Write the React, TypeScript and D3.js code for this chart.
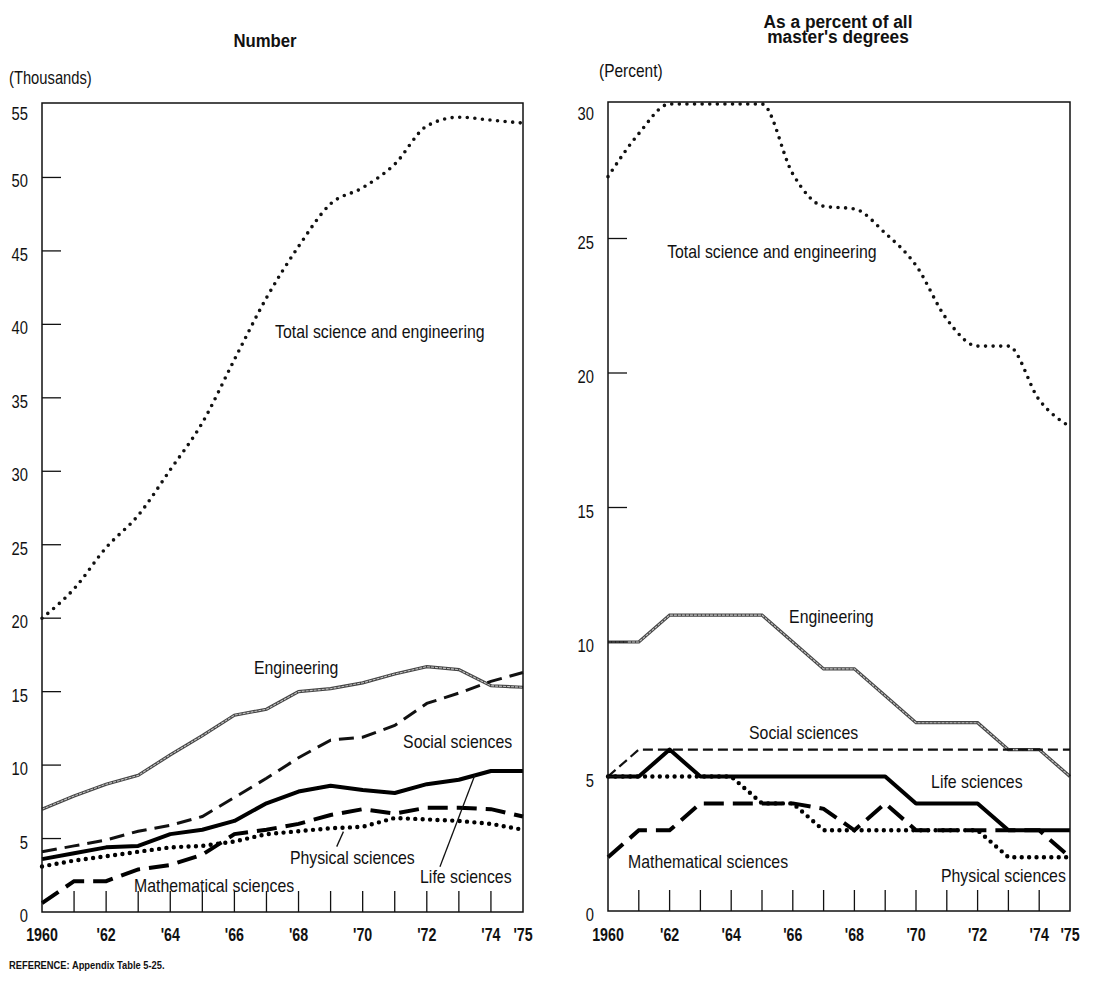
import { useRef, useEffect } from 'react';
import * as d3 from 'd3';

// ---- data ----
const years = [1960, 1961, 1962, 1963, 1964, 1965, 1966, 1967, 1968, 1969, 1970, 1971, 1972, 1973, 1974, 1975];

// Number of master's degrees (thousands)
const numTotal = [20.0, 22.0, 24.8, 27.0, 30.1, 33.3, 37.6, 41.8, 45.3, 48.2, 49.3, 50.9, 53.5, 54.1, 53.9, 53.7];
const numEngineering = [7.0, 7.9, 8.7, 9.3, 10.7, 12.0, 13.4, 13.8, 15.0, 15.2, 15.6, 16.2, 16.7, 16.5, 15.4, 15.3];
const numSocial = [4.1, 4.5, 4.9, 5.5, 5.9, 6.5, 7.8, 9.1, 10.5, 11.7, 11.9, 12.7, 14.2, 14.9, 15.7, 16.3];
const numLife = [3.6, 4.0, 4.4, 4.5, 5.3, 5.6, 6.2, 7.4, 8.2, 8.6, 8.3, 8.1, 8.7, 9.0, 9.6, 9.6];
const numPhysical = [3.1, 3.5, 3.8, 4.1, 4.4, 4.5, 4.8, 5.3, 5.5, 5.7, 5.8, 6.4, 6.3, 6.2, 6.0, 5.6];
const numMath = [0.6, 2.1, 2.1, 2.9, 3.2, 3.9, 5.3, 5.6, 6.0, 6.6, 7.0, 6.7, 7.1, 7.1, 7.0, 6.5];

// As a percent of all master's degrees
const pctTotal = [27.3, 28.9, 30, 30, 30, 30, 27.4, 26.2, 26.1, 25.2, 24, 22, 21, 21, 19, 18];
const pctEngineering = [10, 10, 11, 11, 11, 11, 10, 9, 9, 8, 7, 7, 7, 6, 6, 5];
const pctSocial = [5, 6, 6, 6, 6, 6, 6, 6, 6, 6, 6, 6, 6, 6, 6, 6];
const pctLife = [5, 5, 6, 5, 5, 5, 5, 5, 5, 5, 4, 4, 4, 3, 3, 3];
const pctPhysical = [5, 5, 5, 5, 5, 4, 4, 3, 3, 3, 3, 3, 3, 2, 2, 2];
const pctMath = [2, 3, 3, 4, 4, 4, 4, 3.8, 3, 4, 3, 3, 3, 3, 3, 2];

const numYTicks = [0, 5, 10, 15, 20, 25, 30, 35, 40, 45, 50, 55];
const pctYTicks = [0, 5, 10, 15, 20, 25, 30];
const xLabelYears = [1960, 1962, 1964, 1966, 1968, 1970, 1972, 1974, 1975];
const xLabelText = ['1960', "'62", "'64", "'66", "'68", "'70", "'72", "'74", "'75"];

// Liberation Sans squeezed horizontally stands in for the condensed face
const FONT = "'Liberation Sans', Arial, sans-serif";
const SQUEEZE = 0.82;

type Sel = d3.Selection<any, unknown, null, undefined>;
type Series = { key: string; values: number[] };
type Label = { text: string; yr: number; v: number };
type Panel = {
  left: number;
  right: number;
  top: number;
  bottom: number;
  frameTop: number;
  yMax: number;
  yTicks: number[];
  tickMarks: number[];
  socialDash: string;
  socialWidth: number;
  series: Series[];
  labels: Label[];
  leaders: [number, number, number, number][];
};

const leftPanel: Panel = {
  left: 42,
  right: 523,
  top: 104,
  bottom: 912,
  frameTop: 103,
  yMax: 55,
  yTicks: numYTicks,
  tickMarks: [5, 10, 15, 20, 25, 30, 35, 40, 45, 50],
  socialDash: '15 8',
  socialWidth: 3,
  series: [
    { key: 'total', values: numTotal },
    { key: 'eng', values: numEngineering },
    { key: 'social', values: numSocial },
    { key: 'life', values: numLife },
    { key: 'phys', values: numPhysical },
    { key: 'math', values: numMath },
  ],
  labels: [
    { text: 'Total science and engineering', yr: 1967.27, v: 39.05 },
    { text: 'Engineering', yr: 1966.61, v: 16.2 },
    { text: 'Social sciences', yr: 1971.26, v: 11.16 },
    { text: 'Physical sciences', yr: 1967.73, v: 3.27 },
    { text: 'Life sciences', yr: 1971.79, v: 1.97 },
    { text: 'Mathematical sciences', yr: 1962.87, v: 1.36 },
  ],
  leaders: [
    [1969.4, 5.47, 1969.19, 4.45],
    [1973.5, 9.33, 1972.41, 3.08],
  ],
};

const rightPanel: Panel = {
  left: 608,
  right: 1070,
  top: 104,
  bottom: 911,
  frameTop: 102,
  yMax: 30,
  yTicks: pctYTicks,
  tickMarks: [5, 10, 15, 20, 25],
  socialDash: '10 5',
  socialWidth: 2.2,
  series: [
    { key: 'total', values: pctTotal },
    { key: 'eng', values: pctEngineering },
    { key: 'social', values: pctSocial },
    { key: 'life', values: pctLife },
    { key: 'phys', values: pctPhysical },
    { key: 'math', values: pctMath },
  ],
  labels: [
    { text: 'Total science and engineering', yr: 1961.92, v: 24.27 },
    { text: 'Engineering', yr: 1965.88, v: 10.71 },
    { text: 'Social sciences', yr: 1964.58, v: 6.39 },
    { text: 'Life sciences', yr: 1970.49, v: 4.57 },
    { text: 'Mathematical sciences', yr: 1960.65, v: 1.6 },
    { text: 'Physical sciences', yr: 1970.81, v: 1.08 },
  ],
  leaders: [],
};

function addText(
  parent: Sel,
  x: number,
  y: number,
  str: string,
  size: number,
  opts: { weight?: string; anchor?: string; squeeze?: number } = {}
) {
  return parent
    .append('text')
    .attr('transform', `translate(${x},${y}) scale(${opts.squeeze ?? SQUEEZE},1)`)
    .attr('text-anchor', opts.anchor ?? 'start')
    .attr('font-family', FONT)
    .attr('font-size', size)
    .attr('font-weight', opts.weight ?? 'normal')
    .attr('fill', '#111')
    .text(str);
}

function drawPanel(svg: Sel, p: Panel) {
  const x = d3.scaleLinear().domain([1960, 1975]).range([p.left, p.right]);
  const y = d3.scaleLinear().domain([0, p.yMax]).range([p.bottom, p.top]);
  const g = svg.append('g');

  // series
  const line = d3
    .line<number>()
    .x((_, i) => x(years[i]))
    .y((d) => y(d));
  const smooth = d3
    .line<number>()
    .x((_, i) => x(years[i]))
    .y((d) => y(d))
    .curve(d3.curveMonotoneX);

  for (const s of p.series) {
    if (s.key === 'total') {
      g.append('path')
        .attr('d', smooth(s.values))
        .attr('fill', 'none')
        .attr('stroke', '#111')
        .attr('stroke-width', 3.6)
        .attr('stroke-linecap', 'round')
        .attr('stroke-dasharray', '0 7.6');
    } else if (s.key === 'eng') {
      g.append('path')
        .attr('d', line(s.values))
        .attr('fill', 'none')
        .attr('stroke', '#444')
        .attr('stroke-width', 3.2);
      g.append('path')
        .attr('d', line(s.values))
        .attr('fill', 'none')
        .attr('stroke', '#c4c4c4')
        .attr('stroke-width', 1.1)
        .attr('stroke-dasharray', '3 1');
    } else if (s.key === 'social') {
      g.append('path')
        .attr('d', line(s.values))
        .attr('fill', 'none')
        .attr('stroke', '#111')
        .attr('stroke-width', p.socialWidth)
        .attr('stroke-dasharray', p.socialDash);
    } else if (s.key === 'life') {
      g.append('path')
        .attr('d', line(s.values))
        .attr('fill', 'none')
        .attr('stroke', '#000')
        .attr('stroke-width', 4)
        .attr('stroke-linejoin', 'round');
    } else if (s.key === 'phys') {
      g.append('path')
        .attr('d', line(s.values))
        .attr('fill', 'none')
        .attr('stroke', '#000')
        .attr('stroke-width', 4.4)
        .attr('stroke-linecap', 'round')
        .attr('stroke-dasharray', '0 7.4');
    } else if (s.key === 'math') {
      g.append('path')
        .attr('d', line(s.values))
        .attr('fill', 'none')
        .attr('stroke', '#000')
        .attr('stroke-width', 4)
        .attr('stroke-dasharray', '20 9');
    }
  }

  // frame
  g.append('rect')
    .attr('x', p.left)
    .attr('y', p.frameTop)
    .attr('width', p.right - p.left)
    .attr('height', p.bottom - p.frameTop)
    .attr('fill', 'none')
    .attr('stroke', '#111')
    .attr('stroke-width', 1.5);

  // y tick marks
  for (const t of p.tickMarks) {
    g.append('line')
      .attr('x1', p.left)
      .attr('x2', p.left + 19)
      .attr('y1', y(t))
      .attr('y2', y(t))
      .attr('stroke', '#111')
      .attr('stroke-width', 1.3);
  }

  // y labels
  for (const t of p.yTicks) {
    addText(g, p.left - 14, y(t) + (t === p.yMax ? 16 : 10), String(t), 18, { anchor: 'end' });
  }

  // x tick marks
  for (const yr of years.slice(1, -1)) {
    g.append('line')
      .attr('x1', x(yr))
      .attr('x2', x(yr))
      .attr('y1', p.bottom)
      .attr('y2', p.bottom - 21)
      .attr('stroke', '#111')
      .attr('stroke-width', 1.3);
  }

  // x labels
  xLabelYears.forEach((yr, i) => {
    addText(g, x(yr), 941, xLabelText[i], 18, { anchor: 'middle', weight: 'bold', squeeze: 0.79 });
  });

  // series labels
  for (const l of p.labels) {
    addText(g, x(l.yr), y(l.v), l.text, 18, { squeeze: 0.88 });
  }

  // leader lines
  for (const [yr1, v1, yr2, v2] of p.leaders) {
    g.append('line')
      .attr('x1', x(yr1))
      .attr('y1', y(v1))
      .attr('x2', x(yr2))
      .attr('y2', y(v2))
      .attr('stroke', '#111')
      .attr('stroke-width', 1.3);
  }
}

export default function App() {
  const svgRef = useRef<SVGSVGElement>(null);

  useEffect(() => {
    const svg = d3.select(svgRef.current as SVGSVGElement) as unknown as Sel;
    svg.selectAll('*').remove();

    svg.append('rect').attr('width', 1103).attr('height', 989).attr('fill', '#fff');

    drawPanel(svg, leftPanel);
    drawPanel(svg, rightPanel);

    // titles
    addText(svg, 265, 46.5, 'Number', 18.6, { anchor: 'middle', weight: 'bold', squeeze: 0.9 });
    addText(svg, 838, 27.5, 'As a percent of all', 18.4, { anchor: 'middle', weight: 'bold', squeeze: 0.94 });
    addText(svg, 838, 43, "master's degrees", 18.4, { anchor: 'middle', weight: 'bold', squeeze: 0.94 });

    addText(svg, 9, 84, '(Thousands)', 18);
    addText(svg, 599, 77, '(Percent)', 18, { squeeze: 0.86 });

    addText(svg, 9, 969, 'REFERENCE: Appendix Table 5-25.', 11, { weight: 'bold', squeeze: 0.85 });
  }, []);

  return (
    <svg
      ref={svgRef}
      width={1103}
      height={989}
      viewBox="0 0 1103 989"
      style={{ position: 'absolute', left: 0, top: 0, display: 'block' }}
    />
  );
}
